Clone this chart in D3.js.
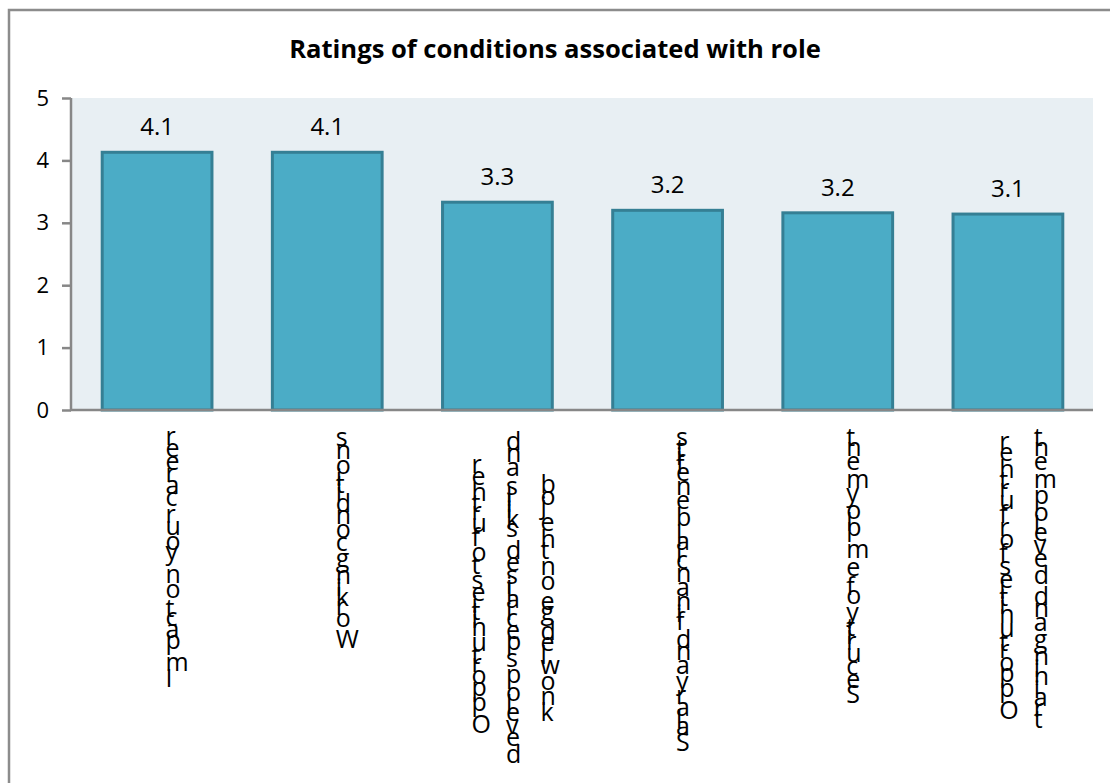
<!DOCTYPE html>
<html>
<head>
<meta charset="utf-8">
<script src="https://cdn.jsdelivr.net/npm/d3@7"></script>
<style>
  html, body { margin: 0; padding: 0; background: #ffffff; }
  svg { display: block; }
</style>
</head>
<body>
<svg id="chart" width="1110" height="783"></svg>
<script>
// Chart data
const chartTitle = "Ratings of conditions associated with role";
const categories = [
  "Impact on your career",
  "Working conditions",
  "Opportunities to further develop specialised skills and knowledge on the job",
  "Salary and financial benefits",
  "Security of employment",
  "Opportunities for further training and development"
];
// How each category label is broken into lines
const categoryLines = [
  ["Impact on your career"],
  ["Working conditions"],
  ["Opportunities to further", "develop specialised skills and", "knowledge on the job"],
  ["Salary and financial benefits"],
  ["Security of employment"],
  ["Opportunities for further", "training and development"]
];
const ratings = [4.13, 4.13, 3.33, 3.2, 3.16, 3.14];
const yTicks = [0, 1, 2, 3, 4, 5];

const svg = d3.select("#chart");

const plot = { left: 72, right: 1093, top: 98, bottom: 410 };

const x = d3.scaleBand()
  .domain(categories)
  .range([plot.left, plot.right])
  .paddingInner(0.355)
  .paddingOuter(0.1775);

const y = d3.scaleLinear()
  .domain([0, 5])
  .range([plot.bottom, plot.top]);

// Outer frame (left and top edges)
svg.append("path")
  .attr("d", "M9,783 L9,10 L1110,10")
  .attr("fill", "none")
  .attr("stroke", "#8c8c8c")
  .attr("stroke-width", 2.5);

// Title, sized to span its full width
const title = svg.append("text")
  .attr("x", 555)
  .attr("y", 58)
  .attr("text-anchor", "middle")
  .attr("font-family", "'Open Sans', sans-serif")
  .attr("font-weight", "bold")
  .attr("font-size", 22)
  .attr("fill", "#000")
  .text(chartTitle);
const titleWidth = title.node().getComputedTextLength();
if (titleWidth > 0) title.attr("font-size", 22 * 532 / titleWidth);

// Plot background
svg.append("rect")
  .attr("x", plot.left)
  .attr("y", plot.top)
  .attr("width", plot.right - plot.left)
  .attr("height", plot.bottom - plot.top)
  .attr("fill", "#e8eff3");

// Bars
svg.append("g")
  .selectAll("rect")
  .data(ratings)
  .join("rect")
  .attr("x", (d, i) => x(categories[i]))
  .attr("y", d => y(d))
  .attr("width", x.bandwidth())
  .attr("height", d => y(0) - y(d))
  .attr("fill", "#4bacc6")
  .attr("stroke", "#357f94")
  .attr("stroke-width", 3);

// Value labels
const fmt = d3.format(".1f");
svg.append("g")
  .selectAll("text")
  .data(ratings)
  .join("text")
  .attr("x", (d, i) => x(categories[i]) + x.bandwidth() / 2)
  .attr("y", d => y(d) - 17)
  .attr("text-anchor", "middle")
  .attr("font-family", "'Open Sans', sans-serif")
  .attr("font-size", 24)
  .attr("fill", "#000")
  .text(d => fmt(d));

// Y axis
const yAxis = svg.append("g")
  .attr("transform", `translate(${plot.left - 1},0)`)
  .call(d3.axisLeft(y).tickValues(yTicks).tickSize(9).tickPadding(13).tickFormat(d3.format("d")));
yAxis.select(".domain").attr("stroke", "#878787").attr("stroke-width", 2.5)
  .attr("d", `M0,${plot.top}V${plot.bottom}`);
yAxis.selectAll(".tick line").attr("stroke", "#878787").attr("stroke-width", 2.5);
yAxis.selectAll(".tick text")
  .attr("font-family", "'Open Sans', sans-serif")
  .attr("font-size", 22)
  .attr("fill", "#000");

// X axis baseline
const xAxis = svg.append("g")
  .attr("transform", `translate(0,${plot.bottom})`)
  .call(d3.axisBottom(x).tickSize(0).tickFormat(""));
xAxis.select(".domain").attr("stroke", "#878787").attr("stroke-width", 2.5)
  .attr("d", `M${plot.left - 2},0H${plot.right}`);

// Category labels: each line runs bottom-to-top with upright characters
const labelFont = "25px 'Open Sans'";
const ctx = document.createElement("canvas").getContext("2d");
ctx.font = labelFont;
const labelTop = 433;
const lineGap = 34.5;
const advanceScale = 0.965;

const labelGroup = svg.append("g")
  .attr("font-family", "'Open Sans', sans-serif")
  .attr("font-size", 25)
  .attr("fill", "#000");

categoryLines.forEach((lines, ci) => {
  const cx = x(categories[ci]) + x.bandwidth() / 2;
  const metrics = lines.map(line => Array.from(line).map(ch => {
    const m = ctx.measureText(ch);
    return { ch, adv: m.width * advanceScale, asc: m.actualBoundingBoxAscent || 0, desc: m.actualBoundingBoxDescent || 0 };
  }));
  const lengths = metrics.map(ms => d3.sum(ms, m => m.adv));
  const maxLen = d3.max(lengths);
  lines.forEach((line, li) => {
    const ms = metrics[li];
    const len = lengths[li];
    const top = labelTop + (maxLen - len) / 2;
    const lx = cx + 8.5 + (li - (lines.length - 1) / 2) * lineGap;
    let cum = 0;
    const ys = ms.map(m => {
      const bottom = top + len - cum;
      cum += m.adv;
      const mid = bottom - m.adv / 2;
      return mid + (m.asc - m.desc) / 2;
    });
    labelGroup.append("text")
      .attr("x", ms.map(() => lx.toFixed(1)).join(" "))
      .attr("y", ys.map(v => v.toFixed(1)).join(" "))
      .text(line);
  });
});
</script>
</body>
</html>
